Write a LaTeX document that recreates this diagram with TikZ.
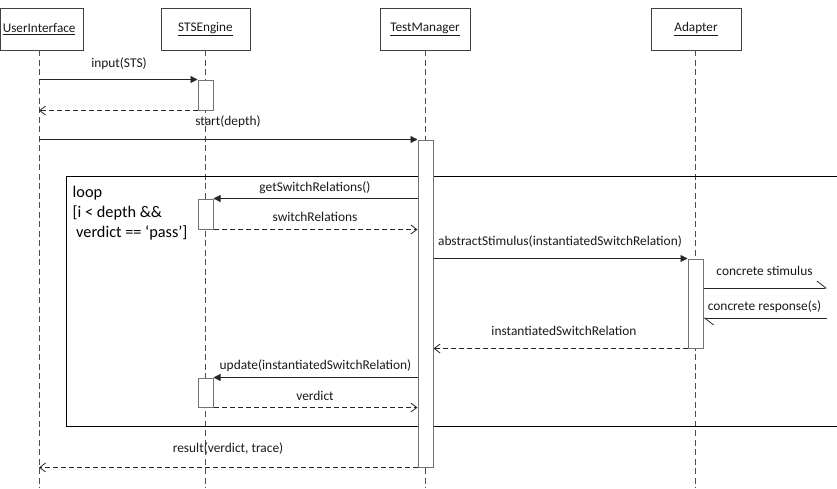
\documentclass[tikz,border=0pt]{standalone}
\usepackage{fontspec}
\setmainfont{Carlito}
\usetikzlibrary{arrows.meta}
\begin{document}
\begin{tikzpicture}[x=1pt,y=-1pt,
  head/.style={draw=black!75, line width=0.9pt, minimum height=42pt, inner sep=0,
    font=\fontsize{13.2}{15}\selectfont, text=black!90},
  life/.style={draw=black!70, dash pattern=on 6pt off 3.5pt, line width=0.8pt},
  act/.style={draw=black!55, fill=white, line width=1pt, minimum width=15pt, inner sep=0},
  call/.style={draw=black!85, line width=0.8pt, -{Triangle[length=7pt,width=7pt]}},
  reply/.style={draw=black!85, line width=0.8pt, dash pattern=on 5pt off 3pt,
    -{Straight Barb[length=6pt,width=9pt]}},
  async/.style={draw=black!85, line width=0.8pt, -{Straight Barb[harpoon,length=9pt,width=14pt]}},
  msg/.style={font=\fontsize{13.4}{15}\selectfont, text=black!90, inner sep=0},
  frame/.style={draw=black, line width=0.9pt, inner sep=0}
]
\useasboundingbox (0,0) rectangle (837,488);

% headers
\node[head, minimum width=82.6pt] (ui) at (41.9,29) {\hspace*{-5.5pt}\underline{UserInterface}};
\node[head, minimum width=89pt] (sts) at (205.5,29) {\underline{STSEngine}};
\node[head, minimum width=90pt] (tmh) at (425,29) {\underline{TestManager}};
\node[head, minimum width=90pt] (adh) at (696,29) {\underline{Adapter}};

% lifeline ends
\coordinate (uiend) at (39,488);
\coordinate (stsend) at (205.5,488);
\coordinate (tmend) at (425.5,488);
\coordinate (adend) at (695.5,488);

\draw[life] (ui.south -| uiend) -- (uiend);
\draw[life] (sts.south -| stsend) -- (stsend);
\draw[life] (tmh.south -| tmend) -- (tmend);
\draw[life] (adh.south -| adend) -- (adend);

% loop frame
\node[frame, anchor=north west, minimum width=785pt, minimum height=250pt] (loop) at (66,176) {};
\node[anchor=north west, align=left, inner sep=0, font=\fontsize{16.3}{20}\selectfont, text=black]
  (guard) at (72.5,186) {loop\\{}[i < depth \&\&\\\hspace*{3.5pt}verdict == `pass']};

% activations
\node[act, minimum height=30pt] (s1) at (205.5,95) {};
\node[act, minimum height=30pt] (s2) at (205.5,214) {};
\node[act, minimum height=29pt] (s3) at (205.5,392.5) {};
\node[act, minimum height=327pt] (tm) at (425.5,303.5) {};
\node[act, minimum height=89pt] (ad) at (695.5,303.5) {};

% messages
\draw[call] (uiend |- s1.north) -- (s1.north west);
\draw[reply] (s1.south west) -- (uiend |- s1.south);
\draw[call] (uiend |- tm.north) -- (tm.north west);
\draw[call] (tm.west |- s2.north) -- (s2.north east);
\draw[reply] (s2.south east) -- (tm.west |- s2.south);
\draw[call] (tm.east |- ad.north) -- (ad.north west);
\coordinate (envout) at (827,288);
\coordinate (envin) at (827,318);
\draw[async] (ad.east |- envout) -- (envout);
\draw[async] (envin) -- (ad.east |- envin);
\draw[reply] (ad.south west) -- (tm.east |- ad.south);
\draw[call] (tm.west |- s3.north) -- (s3.north east);
\draw[reply] (s3.south east) -- (tm.west |- s3.south);
\draw[reply] (tm.south west) -- (uiend |- tm.south);

% labels
\node[msg] (l1) at (119,64) {input(STS)};
\node[msg] (l2) at (228,122) {start(depth)};
\node[msg] (l3) at (315,188) {getSwitchRelations()};
\node[msg] (l4) at (315,217) {switchRelations};
\node[msg] (l5) at (560,242) {abstractStimulus(instantiatedSwitchRelation)};
\node[msg] (l6) at (764.5,271) {concrete stimulus};
\node[msg] (l7) at (764.5,307) {concrete response(s)};
\node[msg] (l8) at (564,331) {instantiatedSwitchRelation};
\node[msg] (l9) at (315.5,366) {update(instantiatedSwitchRelation)};
\node[msg] (l10) at (315,396) {verdict};
\node[msg] (l11) at (228,449) {result(verdict, trace)};
\end{tikzpicture}
\end{document}
